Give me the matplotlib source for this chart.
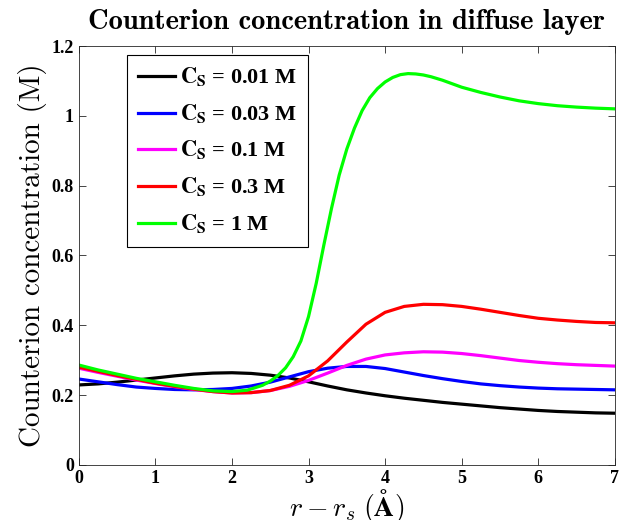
import matplotlib
matplotlib.use("Agg")
import matplotlib.pyplot as plt

x_a = [0, 0.25, 0.5, 0.75, 1.0, 1.25, 1.5, 1.75, 2.0, 2.25, 2.5, 2.75, 3.0, 3.25,
       3.5, 3.75, 4.0, 4.25, 4.5, 4.75, 5.0, 5.25, 5.5, 5.75, 6.0, 6.25, 6.5, 6.75, 7.0]
c001 = [0.229, 0.232, 0.237, 0.243, 0.249, 0.255, 0.260, 0.263, 0.264, 0.262, 0.257, 0.249,
        0.238, 0.226, 0.215, 0.206, 0.198, 0.191, 0.185, 0.179, 0.174, 0.169, 0.164, 0.160,
        0.156, 0.153, 0.151, 0.149, 0.148]
c003 = [0.246, 0.238, 0.230, 0.223, 0.219, 0.216, 0.215, 0.216, 0.219, 0.226, 0.237, 0.252,
        0.267, 0.277, 0.282, 0.282, 0.276, 0.266, 0.256, 0.247, 0.239, 0.232, 0.227, 0.223,
        0.220, 0.218, 0.217, 0.216, 0.215]
c01 = [0.277, 0.265, 0.254, 0.243, 0.233, 0.224, 0.216, 0.210, 0.206, 0.207, 0.213, 0.225,
       0.242, 0.263, 0.285, 0.303, 0.315, 0.321, 0.324, 0.323, 0.319, 0.313, 0.306, 0.299,
       0.294, 0.290, 0.287, 0.285, 0.283]
c03 = [0.280, 0.268, 0.256, 0.245, 0.234, 0.225, 0.217, 0.210, 0.206, 0.207, 0.213, 0.228,
       0.255, 0.298, 0.352, 0.403, 0.437, 0.454, 0.460, 0.459, 0.454, 0.446, 0.437, 0.428,
       0.420, 0.415, 0.411, 0.408, 0.407]
x_b = [0, 0.25, 0.5, 0.75, 1.0, 1.25, 1.5, 1.75, 2.0, 2.2, 2.4, 2.5, 2.6, 2.7, 2.8, 2.9,
       3.0, 3.1, 3.2, 3.3, 3.4, 3.5, 3.6, 3.7, 3.8, 3.9, 4.0, 4.1, 4.2, 4.3, 4.4, 4.5, 4.6,
       4.75, 5.0, 5.25, 5.5, 5.75, 6.0, 6.25, 6.5, 6.75, 7.0]
c1 = [0.286, 0.272, 0.260, 0.248, 0.238, 0.228, 0.219, 0.212, 0.210, 0.214, 0.228, 0.240,
      0.256, 0.278, 0.310, 0.355, 0.425, 0.520, 0.630, 0.735, 0.830, 0.905, 0.965, 1.015,
      1.052, 1.078, 1.097, 1.110, 1.118, 1.121, 1.120, 1.117, 1.112, 1.102, 1.082, 1.067,
      1.054, 1.043, 1.035, 1.029, 1.025, 1.022, 1.020]

series = [(x_a, c001, 'k', '0.01'), (x_a, c003, 'b', '0.03'), (x_a, c01, '#ff00ff', '0.1'),
          (x_a, c03, 'r', '0.3'), (x_b, c1, '#00ff00', '1')]

plt.rcParams['mathtext.fontset'] = 'stix'
plt.rcParams['font.family'] = ['Liberation Serif', 'DejaVu Serif']
plt.rcParams['font.weight'] = 'bold'

fig = plt.figure(figsize=(6.21, 5.2), dpi=100)
ax = fig.add_axes([0.127, 0.106, 0.863, 0.8055])

for xs, ys, col, lab in series:
    ax.plot(xs, ys, color=col, lw=2.3, label=r'$\mathbf{C_S}$ = ' + lab + ' M')

ax.set_xlim(0, 7)
ax.set_ylim(0, 1.2)
ax.set_xticks(range(8))
ax.set_yticks([0, 0.2, 0.4, 0.6, 0.8, 1.0, 1.2])
ax.set_yticklabels(['0', '0.2', '0.4', '0.6', '0.8', '1', '1.2'])
ax.tick_params(direction='in', top=True, right=True, labelsize=13, length=5,
               color='#262626', width=0.6)
for s in ax.spines.values():
    s.set_color('#262626')
    s.set_linewidth(0.6)

ax.set_title('Counterion concentration in diffuse layer', family='cmb10', fontsize=20.5,
             pad=12)
ax.set_ylabel('Counterion concentration (M)', family='cmr10', fontsize=21, labelpad=3)
ax.set_xlabel(r'$r - r_s$ $\mathbf{(Å)}$', fontsize=20, math_fontfamily='cm', labelpad=0)

leg = ax.legend(loc='upper left', bbox_to_anchor=(0.09, 0.979), borderaxespad=0,
                fontsize=16, handlelength=1.65, labelspacing=0.6, fancybox=False,
                edgecolor='k', framealpha=1, handletextpad=0.25, borderpad=0.5)
leg.get_frame().set_linewidth(0.8)

fig.savefig('out.png', dpi=100)
